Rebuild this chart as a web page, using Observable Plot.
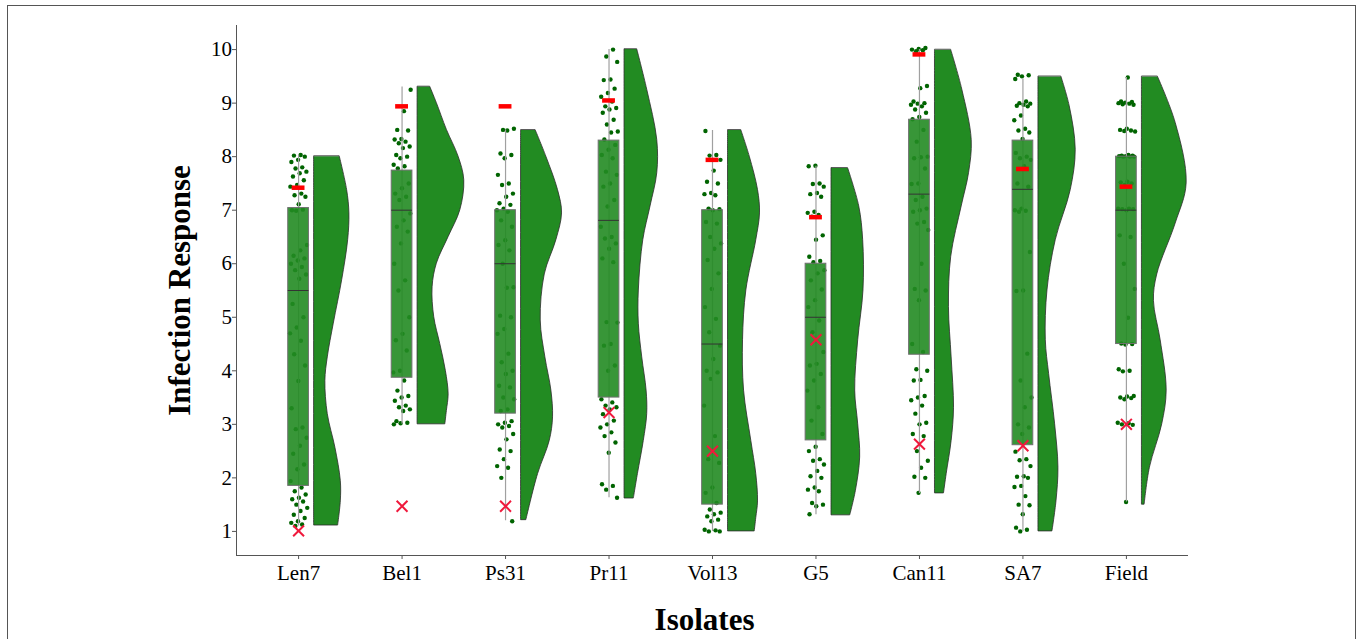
<!DOCTYPE html>
<html><head><meta charset="utf-8">
<script src="https://cdn.jsdelivr.net/npm/d3@7"></script>
<script src="https://cdn.jsdelivr.net/npm/@observablehq/plot@0.6"></script>
<style>
html,body{margin:0;padding:0;background:#fff;}
#wrap{position:relative;width:1362px;height:639px;overflow:hidden;}
#wrap svg{position:absolute;left:0;top:0;}
#border{position:absolute;left:7px;top:5px;width:1347px;height:700px;border:1px solid #555;pointer-events:none;}
</style></head><body><div id="wrap"><div id="border"></div></div>
<script>
const isolates = ["Len7","Bel1","Ps31","Pr11","Vol13","G5","Can11","SA7","Field"];
const yTicks = [1,2,3,4,5,6,7,8,9,10];

// box statistics per isolate
const q1 = [1.85, 3.87, 3.2, 3.5, 1.5, 2.7, 4.3, 2.61, 4.5];
const medians = [5.5, 7.0, 6.0, 6.81, 4.5, 5.0, 7.3, 7.39, 7.0];
const q3 = [7.04, 7.74, 7.0, 8.3, 7.0, 6.0, 8.69, 8.3, 8.0];
const whiskerLow = [1.1, 3.0, 1.2, 1.63, 1.0, 1.31, 1.71, 1.0, 1.55];
const whiskerHigh = [8.03, 9.3, 8.5, 10.0, 8.49, 7.82, 10.0, 9.45, 9.48];

// red markers
const dashValues = [7.42, 8.94, 8.94, 9.05, 7.94, 6.87, 9.91, 7.77, 7.44];
const crossValues = [1.01, 1.47, 1.47, 3.22, 2.5, 4.58, 2.63, 2.6, 3.0];

// observations (infection response) per isolate
const ptsLen7 = [8.03,8.02,8.0,7.94,7.9,7.8,7.78,7.72,7.69,7.63,7.56,7.47,7.44,7.31,7.28,7.25,7.11,7.0,7.01,6.99,6.35,6.25,6.15,6.1,6.06,6.0,5.94,5.88,5.8,5.72,5.25,5.0,4.81,4.7,4.56,4.31,4.1,3.81,3.3,2.94,2.91,2.75,2.6,2.45,2.25,2.16,1.94,1.82,1.75,1.69,1.63,1.6,1.56,1.5,1.44,1.38,1.31,1.25,1.19,1.16,1.13,1.1];
const ptsBel1 = [9.25,8.85,8.5,8.49,8.33,8.32,8.28,8.25,8.19,8.16,8.03,8.0,7.97,7.85,7.82,7.78,7.5,7.41,7.31,7.25,7.19,6.94,6.81,6.69,6.6,6.38,6.0,5.69,5.5,5.0,4.69,4.57,4.38,4.0,3.97,3.82,3.63,3.53,3.5,3.44,3.35,3.32,3.28,3.25,3.06,3.03,3.02,3.0];
const ptsPs31 = [8.5,8.52,8.49,8.06,8.03,7.97,7.66,7.5,7.47,7.31,7.25,7.13,7.1,7.03,7.0,6.97,6.81,6.69,6.44,6.35,6.25,6.0,5.56,5.55,5.03,5.0,4.78,4.69,4.32,4.16,4.0,3.94,3.72,3.69,3.5,3.47,3.28,3.25,3.06,3.03,3.0,2.97,2.94,2.82,2.72,2.53,2.5,2.35,2.22,2.19,2.0,1.19];
const ptsPr11 = [10.0,9.87,9.77,9.44,9.43,9.27,9.19,9.12,9.03,8.94,8.91,8.88,8.82,8.69,8.6,8.47,8.45,8.32,8.22,8.13,8.03,7.97,7.72,7.66,7.5,7.44,7.19,7.07,6.69,6.5,6.47,6.38,6.28,6.1,6.03,4.91,4.9,4.5,4.47,4.1,4.0,3.47,3.41,3.35,3.32,3.28,3.19,3.07,3.0,2.94,2.85,2.78,2.66,2.47,1.88,1.85,1.78,1.63];
const ptsVol13 = [8.48,8.03,8.02,7.94,7.74,7.53,7.5,7.32,7.3,7.28,7.03,7.02,7.0,6.78,6.75,6.5,6.38,6.28,6.07,5.82,5.53,5.19,4.97,4.72,4.47,4.22,4.0,3.97,3.85,3.35,2.78,2.35,2.28,1.82,1.72,1.53,1.41,1.35,1.32,1.28,1.22,1.19,1.03,1.02,1.0,1.0];
const ptsG5 = [7.83,7.82,7.5,7.49,7.44,7.32,7.3,7.25,6.97,6.95,6.91,6.88,6.53,6.45,6.13,6.05,6.03,5.88,5.82,5.69,5.52,5.32,5.19,4.94,4.72,4.35,4.13,4.1,3.94,3.82,3.63,3.32,3.07,2.82,2.58,2.5,2.35,2.32,2.25,2.13,2.03,2.0,1.82,1.78,1.75,1.53,1.5,1.47,1.32];
const ptsCan11 = [10.03,10.01,10.0,9.99,9.97,9.32,9.28,9.03,9.0,8.99,8.97,8.94,8.88,8.82,8.74,8.7,8.5,8.28,8.0,7.99,7.97,7.78,7.5,7.49,7.25,7.19,7.03,7.0,6.97,6.78,6.75,6.63,6.0,5.53,5.5,5.32,4.5,4.35,4.03,4.0,3.83,3.82,3.53,3.5,3.45,3.35,3.2,3.03,3.0,2.82,2.78,2.5,2.32,2.19,2.02,2.0,1.72];
const ptsSA7 = [9.53,9.52,9.5,9.45,9.03,9.0,8.99,8.97,8.95,8.94,8.77,8.68,8.52,8.49,8.45,8.33,8.07,8.0,7.97,7.94,7.82,7.5,7.44,7.03,7.0,6.99,6.97,6.22,5.5,5.49,4.32,3.82,3.5,3.32,3.0,2.94,2.82,2.49,2.35,2.33,2.22,2.03,2.02,2.0,1.85,1.83,1.66,1.5,1.49,1.32,1.07,1.03,1.0];
const ptsField = [9.48,9.03,9.02,9.01,9.0,8.99,8.98,8.97,8.52,8.5,8.49,8.48,8.47,8.03,8.02,8.02,8.01,8.01,8.0,8.0,8.0,7.53,7.52,7.5,7.47,7.03,7.03,7.02,7.02,7.0,6.53,6.5,6.0,5.53,4.99,4.51,4.5,4.49,4.03,4.0,3.99,3.53,3.52,3.5,3.49,3.47,3.03,3.02,3.0,2.99,1.55];

// half-violin density profiles: [response, width in category units]
const denLen7 = [[8.0,.248],[7.375,.319],[6.94,.341],[6.44,.329],[5.69,.271],[4.88,.190],[4.25,.132],[3.81,.109],[3.19,.132],[2.56,.206],[1.94,.258],[1.56,.258],[1.11,.232]];
const denBel1 = [[9.3,.123],[9.0,.186],[8.5,.283],[8.0,.396],[7.56,.451],[7.0,.413],[6.5,.300],[6.0,.186],[5.56,.145],[5.0,.161],[4.5,.219],[4.0,.273],[3.56,.300],[3.25,.283],[3.0,.268]];
const denPs31 = [[8.49,.142],[8.0,.244],[7.375,.357],[6.94,.396],[6.44,.341],[5.8,.229],[4.94,.190],[4.25,.235],[3.63,.293],[3.13,.309],[2.69,.277],[2.07,.164],[1.21,.051]];
const denPr11 = [[10.0,.123],[9.25,.219],[8.31,.316],[7.69,.316],[7.07,.251],[6.44,.181],[5.5,.138],[4.88,.138],[4.25,.171],[3.63,.213],[3.19,.219],[2.69,.186],[2.07,.129],[1.615,.090]];
const denVol13 = [[8.49,.129],[8.0,.210],[7.375,.290],[6.94,.309],[6.44,.273],[5.5,.177],[4.57,.145],[3.63,.155],[2.69,.225],[2.07,.273],[1.56,.290],[1.25,.273],[1.0,.258]];
const denG5 = [[7.78,.161],[7.07,.268],[6.44,.306],[5.5,.309],[4.57,.258],[3.63,.229],[3.0,.258],[2.38,.277],[1.75,.235],[1.3,.181]];
const denCan11 = [[9.99,.157],[9.25,.264],[8.31,.355],[7.69,.329],[7.07,.258],[6.13,.157],[5.19,.135],[4.25,.161],[3.31,.184],[2.69,.161],[2.07,.113],[1.71,.087]];
const denSA7 = [[9.49,.222],[8.94,.302],[8.13,.360],[7.375,.312],[6.44,.167],[5.5,.087],[4.57,.071],[3.94,.103],[3.0,.161],[2.19,.193],[1.56,.174],[1.0,.135]];
const denField = [[9.49,.155],[8.63,.326],[7.5,.432],[6.75,.326],[5.8,.148],[5.3,.116],[4.57,.181],[3.63,.239],[3.0,.196],[2.19,.077],[1.5,.026]];

const allPts = [ptsLen7, ptsBel1, ptsPs31, ptsPr11, ptsVol13, ptsG5, ptsCan11, ptsSA7, ptsField];
const allDen = [denLen7, denBel1, denPs31, denPr11, denVol13, denG5, denCan11, denSA7, denField];

// tables built from the arrays
const boxRows = isolates.map((iso, k) => ({iso, i: k + 1, q1: q1[k], med: medians[k], q3: q3[k],
  lo: whiskerLow[k], hi: whiskerHigh[k], dash: dashValues[k], cross: crossValues[k]}));
const pointRows = [];
allPts.forEach((arr, k) => arr.forEach((v, n) => {
  const j = (((n + 1) * 0.6180339887 + k * 0.37) % 1 - 0.5) * 0.17; // deterministic jitter
  pointRows.push({iso: isolates[k], i: k + 1, v, j});
}));
const violinRows = [];
allDen.forEach((arr, k) => arr.forEach(([v, w]) => violinRows.push({iso: isolates[k], i: k + 1, v, w})));

const serif = "'Liberation Serif', 'Times New Roman', serif";
const plot = Plot.plot({
  width: 1362, height: 639,
  marginLeft: 236, marginRight: 174, marginTop: 25, marginBottom: 84,
  style: {fontFamily: serif, background: "transparent", color: "#000"},
  x: {domain: [0.4, 9.6]},
  y: {domain: [0.55, 10.45]},
  marks: [
    Plot.axisY({ticks: yTicks, tickSize: 4, tickPadding: 0.5, fontSize: 21, stroke: "#555", fill: "#000", label: null}),
    Plot.axisX({ticks: isolates.map((d, k) => k + 1), tickFormat: t => isolates[t - 1], tickSize: 4, tickPadding: 6, fontSize: 21, stroke: "#555", fill: "#000", label: null}),
    Plot.ruleX([0.4], {stroke: "#555"}),
    Plot.ruleY([0.55], {stroke: "#555"}),
    Plot.areaX(violinRows, {y: "v", x1: d => d.i + 0.15, x2: d => d.i + 0.15 + d.w, z: "iso",
      fill: "#228B22", stroke: "#2b2b2b", strokeWidth: 0.8, curve: "catmull-rom"}),
    Plot.dot(pointRows, {x: d => d.i + d.j, y: "v", r: 2.2, fill: "#006400", stroke: null}),
    Plot.ruleX(boxRows, {x: "i", y1: "lo", y2: "hi", stroke: "#a0a0a0", strokeWidth: 1.2}),
    Plot.rect(boxRows, {x1: d => d.i - 0.1, x2: d => d.i + 0.1, y1: "q1", y2: "q3",
      fill: "#228B22", fillOpacity: 0.9, stroke: "#707070", strokeWidth: 1}),
    Plot.ruleY(boxRows, {y: "med", x1: d => d.i - 0.1, x2: d => d.i + 0.1, stroke: "#333", strokeWidth: 1}),
    Plot.ruleY(boxRows, {y: "dash", x1: d => d.i - 0.062, x2: d => d.i + 0.062, stroke: "#ff0000", strokeWidth: 4.5}),
    Plot.dot(boxRows, {x: "i", y: "cross", symbol: "times", r: 5, stroke: "#f0193c", strokeWidth: 2}),
    Plot.text(["Infection Response"], {text: d => d, frameAnchor: "left", dx: -56, rotate: -90,
      textAnchor: "middle", lineAnchor: "middle",
      fontSize: 31, fontWeight: "bold", fontFamily: serif, fill: "#000"}),
    Plot.text(["Isolates"], {text: d => d, frameAnchor: "bottom", dx: -8, dy: 65,
      textAnchor: "middle", lineAnchor: "middle",
      fontSize: 31, fontWeight: "bold", fontFamily: serif, fill: "#000"})
  ]
});
document.getElementById("wrap").appendChild(plot);
</script>
</body></html>
